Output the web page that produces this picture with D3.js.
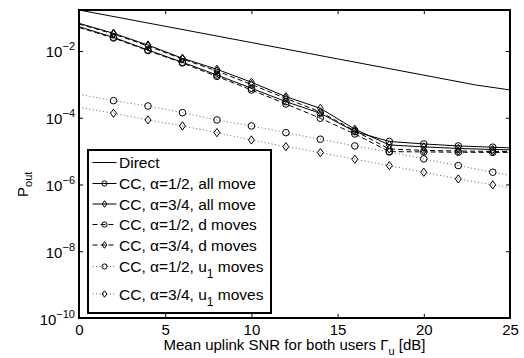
<!DOCTYPE html>
<html>
<head>
<meta charset="utf-8">
<script src="https://cdn.jsdelivr.net/npm/d3@7"></script>
<style>
  html, body { margin: 0; padding: 0; background: #fff; }
  svg { display: block; }
  svg text { font-family: "Liberation Sans", Arial, sans-serif; }
</style>
</head>
<body>
<svg id="chart" width="524" height="358"></svg>
<script>
// SNR grid of the relay curves (markers shown at 2..24 only)
const snr = [0, 2, 4, 6, 8, 10, 12, 14, 16, 18, 20, 22, 24, 25];
const markerSnr = [2, 4, 6, 8, 10, 12, 14, 16, 18, 20, 22, 24];

const directSnr = [0, 5, 10, 15, 20, 23, 25];
const direct = [0.169, 0.055, 0.0179, 0.0058, 0.00189, 0.00096, 0.00068];

const ccHalfAll = [0.0534, 0.0257, 0.0107, 4.59e-3, 1.91e-3, 7.64e-4, 3.03e-4, 1.36e-4, 3.84e-5, 1.95e-5, 1.64e-5, 1.43e-5, 1.31e-5, 1.25e-5];
const ccThreeAll = [0.0675, 0.0339, 0.0151, 6.04e-3, 2.83e-3, 1.16e-3, 4.28e-4, 1.92e-4, 4.53e-5, 1.53e-5, 1.34e-5, 1.20e-5, 1.12e-5, 1.09e-5];
const ccHalfD = [0.0506, 0.0245, 0.0103, 4.37e-3, 1.73e-3, 6.79e-4, 2.59e-4, 9.66e-5, 3.27e-5, 9.66e-6, 9.46e-6, 9.27e-6, 9.14e-6, 9.14e-6];
const ccThreeD = [0.0643, 0.0323, 0.0141, 5.75e-3, 2.52e-3, 9.93e-4, 3.79e-4, 1.49e-4, 4.03e-5, 1.16e-5, 1.05e-5, 1.01e-5, 9.79e-6, 9.79e-6];
const ccHalfU = [4.99e-4, 3.25e-4, 2.25e-4, 1.42e-4, 8.59e-5, 5.68e-5, 3.58e-5, 2.27e-5, 1.43e-5, 9.46e-6, 5.84e-6, 3.68e-6, 2.33e-6, 1.87e-6];
const ccThreeU = [2.06e-4, 1.36e-4, 8.59e-5, 5.68e-5, 3.58e-5, 2.16e-5, 1.36e-5, 9.02e-6, 5.71e-6, 3.68e-6, 2.33e-6, 1.47e-6, 9.73e-7, 7.91e-7];

const xTicks = [0, 5, 10, 15, 20, 25];
const yTickExp = [-10, -8, -6, -4, -2];

const legendLabels = [
  ["Direct"],
  ["CC, \u03b1=1/2, all move"],
  ["CC, \u03b1=3/4, all move"],
  ["CC, \u03b1=1/2, d moves"],
  ["CC, \u03b1=3/4, d moves"],
  ["CC, \u03b1=1/2, u", "1", " moves"],
  ["CC, \u03b1=3/4, u", "1", " moves"]
];

const series = [
  {x: directSnr, y: direct, dash: null, marker: null},
  {x: snr, y: ccHalfAll, dash: null, marker: "circle"},
  {x: snr, y: ccThreeAll, dash: null, marker: "diamond"},
  {x: snr, y: ccHalfD, dash: "5,3", marker: "circle"},
  {x: snr, y: ccThreeD, dash: "5,3", marker: "diamond"},
  {x: snr, y: ccHalfU, dash: "1,2.5", marker: "circle"},
  {x: snr, y: ccThreeU, dash: "1,2.5", marker: "diamond"}
];

const Left = 79, Right = 510, Top = 10, Bottom = 318;
const Font = "Liberation Sans, Arial, sans-serif";

const X = d3.scaleLinear().domain([0, 25]).range([Left, Right]);
const Y = d3.scaleLog().domain([1e-10, 0.169]).range([Bottom, Top]);

const svg = d3.select("#chart");

// curves
const line = d3.line().x(d => X(d[0])).y(d => Y(d[1]));
const plot = svg.append("g");

function drawMarker(g, type, cx, cy, r) {
  if (type === "circle") {
    g.append("circle").attr("cx", cx).attr("cy", cy).attr("r", r)
      .attr("fill", "none").attr("stroke", "#000").attr("stroke-width", 1);
  } else if (type === "diamond") {
    const w = r * 0.9, h = r * 1.25;
    g.append("path")
      .attr("d", `M${cx},${cy - h}L${cx + w},${cy}L${cx},${cy + h}L${cx - w},${cy}Z`)
      .attr("fill", "none").attr("stroke", "#000").attr("stroke-width", 1);
  }
}

series.forEach(s => {
  const pts = s.x.map((v, i) => [v, s.y[i]]);
  plot.append("path")
    .attr("d", line(pts))
    .attr("fill", "none")
    .attr("stroke", s.dash === "1,2.5" ? "#666" : "#000")
    .attr("stroke-width", 1)
    .attr("stroke-dasharray", s.dash);
  if (s.marker) {
    pts.filter(p => markerSnr.includes(p[0]))
      .forEach(p => drawMarker(plot, s.marker, X(p[0]), Y(p[1]), 3.3));
  }
});

// axes box and ticks
const xAxis = svg.append("g")
  .attr("transform", `translate(0,${Bottom})`)
  .call(d3.axisBottom(X).tickValues(xTicks).tickSize(-4).tickPadding(6).tickFormat(d3.format("d")))
  .attr("font-family", Font);
xAxis.select(".domain").remove();
xAxis.selectAll("text").attr("font-size", 15).attr("fill", "#000");

const xTop = svg.append("g")
  .attr("transform", `translate(0,${Top})`)
  .call(d3.axisTop(X).tickValues(xTicks).tickSize(-4).tickFormat(""));
xTop.select(".domain").remove();

const yVals = yTickExp.map(e => Math.pow(10, e));
const yAxis = svg.append("g")
  .attr("transform", `translate(${Left},0)`)
  .call(d3.axisLeft(Y).tickValues(yVals).tickSize(-4).tickPadding(4).tickFormat(""))
  .attr("font-family", Font);
yAxis.select(".domain").remove();
yAxis.selectAll(".tick").each(function(d, i) {
  const t = d3.select(this).append("text")
    .attr("x", -4).attr("y", 6)
    .attr("text-anchor", "end")
    .attr("fill", "#000")
    .attr("font-size", 15);
  t.append("tspan").text("10");
  t.append("tspan").attr("font-size", 11).attr("dy", -7).text("\u2212" + Math.abs(yTickExp[i]));
});

const yRight = svg.append("g")
  .attr("transform", `translate(${Right},0)`)
  .call(d3.axisRight(Y).tickValues(yVals).tickSize(-4).tickFormat(""));
yRight.select(".domain").remove();

svg.selectAll(".tick line").attr("stroke", "#000");

svg.append("rect")
  .attr("x", Left).attr("y", Top)
  .attr("width", Right - Left).attr("height", Bottom - Top)
  .attr("fill", "none").attr("stroke", "#000").attr("stroke-width", 2);

// axis titles
const xl = svg.append("text")
  .attr("x", (Left + Right) / 2).attr("y", 350)
  .attr("text-anchor", "middle").attr("font-size", 15).attr("fill", "#000");
xl.append("tspan").text("Mean uplink SNR for both users \u0393");
xl.append("tspan").attr("font-size", 11).attr("dy", 5).text("u");
xl.append("tspan").attr("dy", -5).text(" [dB]");

const yl = svg.append("text")
  .attr("transform", "translate(28,197) rotate(-90)")
  .attr("font-size", 15).attr("fill", "#000");
yl.append("tspan").text("P");
yl.append("tspan").attr("font-size", 11).attr("dy", 4).text("out");

// legend
const lg = svg.append("g");
lg.append("rect")
  .attr("x", 88).attr("y", 150).attr("width", 183).attr("height", 163)
  .attr("fill", "#fff").attr("stroke", "#000").attr("stroke-width", 2);
const rowY = [162.5, 183.5, 204, 224.5, 245, 266.5, 294];
series.forEach((s, i) => {
  const cy = rowY[i];
  lg.append("line")
    .attr("x1", 92.5).attr("x2", 116.5).attr("y1", cy).attr("y2", cy)
    .attr("stroke", s.dash === "1,2.5" ? "#666" : "#000")
    .attr("stroke-width", 1)
    .attr("stroke-dasharray", s.dash);
  if (s.marker) drawMarker(lg, s.marker, 104.5, cy, 2.6);
  const t = lg.append("text")
    .attr("x", 119).attr("y", cy + 5.5)
    .attr("font-size", 15.5).attr("fill", "#000");
  const parts = legendLabels[i];
  t.append("tspan").text(parts[0]);
  if (parts.length > 1) {
    t.append("tspan").attr("font-size", 12).attr("dy", 6).text(parts[1]);
    t.append("tspan").attr("dy", -6).text(parts[2]);
  }
});
</script>
</body>
</html>
